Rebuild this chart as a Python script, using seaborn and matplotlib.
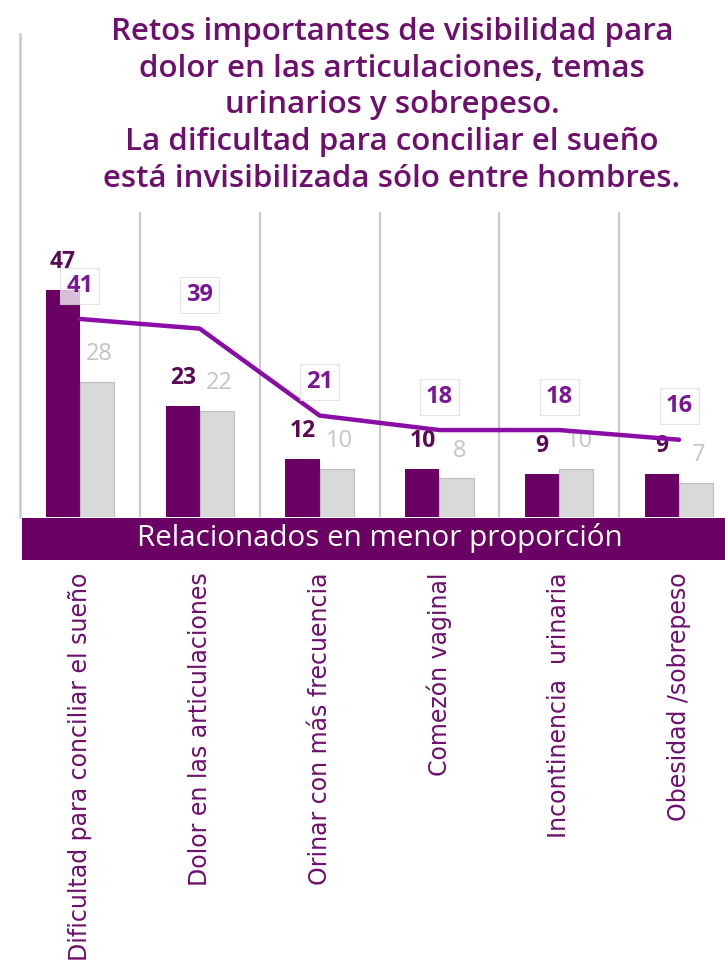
import numpy as np
import pandas as pd
import matplotlib
matplotlib.use("Agg")
import matplotlib.pyplot as plt
from matplotlib.patches import Rectangle
import seaborn as sns

categories = ["Dificultad para conciliar el sueño", "Dolor en las articulaciones",
              "Orinar con más frecuencia", "Comezón vaginal",
              "Incontinencia  urinaria", "Obesidad /sobrepeso"]
serie_mujeres = [47, 23, 12, 10, 9, 9]
serie_hombres = [28, 22, 10, 8, 10, 7]
serie_linea = [41, 39, 21, 18, 18, 16]
series_names = ["Mujeres", "Hombres"]

title = ("Retos importantes de visibilidad para\ndolor en las articulaciones, temas\n"
         "urinarios y sobrepeso.\nLa dificultad para conciliar el sueño\n"
         "está invisibilizada sólo entre hombres.")
banner_text = "Relacionados en menor proporción"

DARK = "#6A0063"
GRAY = "#D9D9D9"
LINE = "#8A0DA6"
TXT = "#6E0F6E"

sns.set_theme(style="white")
plt.rcParams['font.family'] = ['Open Sans', 'DejaVu Sans']

df = pd.DataFrame({
    "cat": categories * 2,
    "val": serie_mujeres + serie_hombres,
    "serie": [series_names[0]] * len(categories) + [series_names[1]] * len(categories),
})

fig = plt.figure(figsize=(7.25, 9.63), dpi=100)
ax = fig.add_axes([20/725, (963-517)/963, 719/725, 483/963])

sns.barplot(data=df, x="cat", y="val", hue="serie", order=categories,
            hue_order=series_names, palette=[DARK, GRAY], width=0.57,
            saturation=1, legend=False, ax=ax, zorder=2)
for i, p in enumerate(ax.patches):
    if i >= len(categories):
        p.set_edgecolor("#BDBDBD")
        p.set_linewidth(0.8)
    else:
        p.set_edgecolor(DARK)
        p.set_linewidth(0)

xs = np.arange(len(categories))
sns.lineplot(x=xs, y=serie_linea, color=LINE, linewidth=3.2, ax=ax, zorder=5)

ax.set_xlim(-0.5, len(categories) - 0.5)
ax.set_ylim(0, 100)

# bar labels
for i, v in enumerate(serie_mujeres):
    ax.annotate(str(v), (i - 0.1425, v), xytext=(0, 20), textcoords="offset points",
                ha="center", va="center", fontsize=16.5, fontweight="bold",
                color="#5A0A55", zorder=4)
for i, v in enumerate(serie_hombres):
    ax.annotate(str(v), (i + 0.1425, v), xytext=(2, 20), textcoords="offset points",
                ha="center", va="center", fontsize=17, color="#C4C4C4", zorder=4)
for i, v in enumerate(serie_linea):
    ax.annotate(str(v), (i, v), xytext=(0, 24), textcoords="offset points",
                ha="center", va="center", fontsize=17, fontweight="bold", color="#7B1597",
                zorder=7,
                bbox=dict(boxstyle="square,pad=0.25", facecolor="white", alpha=0.75,
                          edgecolor="#DADADA", linewidth=0.8))

# separators
for b in np.arange(0.5, len(categories) - 0.5, 1):
    ax.plot([b, b], [0, 63], color="#CACACA", linewidth=1.6, zorder=1)

for s in ["top", "right", "bottom"]:
    ax.spines[s].set_visible(False)
ax.spines["left"].set_color("#CACACA")
ax.spines["left"].set_linewidth(1.8)
ax.set_yticks([])
ax.set_xlabel("")
ax.set_ylabel("")
ax.set_xticks(xs)
ax.set_xticklabels(categories, rotation=90, fontsize=17, color=TXT, va="top", ha="center",
                   family=["DejaVu Sans"])
ax.tick_params(axis="x", length=0, pad=40)

# banner
fig.patches.append(Rectangle((22/725, (963-560)/963), 1 - 22/725, 42/963,
                             transform=fig.transFigure, facecolor=DARK, edgecolor="none",
                             zorder=10))
fig.text(380/725, (963-538)/963, banner_text, color="white", fontsize=21.3,
         ha="center", va="center", zorder=11)

fig.text(392/725, 1 - 17/963, title, color=TXT, fontsize=22.5, ha="center", va="top",
         linespacing=1.29, fontweight="semibold")

fig.savefig("out.png", dpi=100)
